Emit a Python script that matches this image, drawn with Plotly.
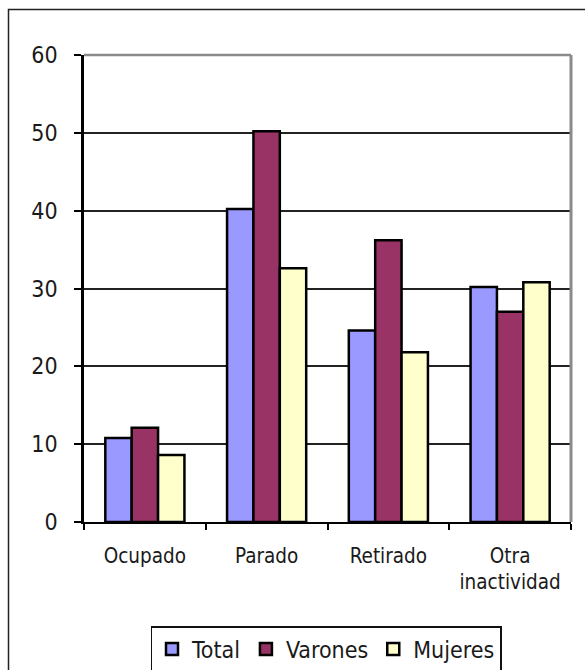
import plotly.graph_objects as go

categories = ["Ocupado", "Parado", "Retirado", "Otra<br>inactividad"]
total = [10.8, 40.2, 24.6, 30.2]
varones = [12.1, 50.2, 36.2, 27.0]
mujeres = [8.6, 32.6, 21.8, 30.8]
y_ticks = [0, 10, 20, 30, 40, 50, 60]

FONT = "DejaVu Sans Condensed, DejaVu Sans, sans-serif"
TXT = "#1a1a1a"

fig = go.Figure()
for name, vals, col in [("Total", total, "#9999FF"),
                        ("Varones", varones, "#993366"),
                        ("Mujeres", mujeres, "#FFFFCC")]:
    fig.add_trace(go.Bar(x=categories, y=vals, name=name,
                         marker=dict(color=col, line=dict(color="#000000", width=2.5))))

W, H = 585, 670
L, R, T, B = 84, 14, 55, 148
pw, ph = W - L - R, H - T - B

def px(x):
    return (x - L) / pw

def py(y):
    return (H - B - y) / ph

fig.update_layout(
    width=W, height=H,
    margin=dict(l=L, r=R, t=T, b=B, pad=0, autoexpand=False),
    paper_bgcolor="white", plot_bgcolor="white",
    barmode="group", bargap=0.35, bargroupgap=0,
    font=dict(family=FONT, color=TXT),
    showlegend=True,
    legend=dict(orientation="h", x=px(326), xanchor="center", y=py(626), yanchor="top",
                bordercolor="#111111", borderwidth=1.5, font=dict(size=23, family=FONT, color=TXT),
                itemwidth=30, tracegroupgap=0),
    xaxis=dict(showline=True, linecolor="#000000", linewidth=2, automargin=False,
               ticks="outside", tickson="boundaries", ticklen=6, tickwidth=2, tickcolor="#000000",
               tickfont=dict(size=20.5, family=FONT, color=TXT),
               ticklabelstandoff=14, showgrid=False, fixedrange=True),
    yaxis=dict(range=[0, 60], tickvals=y_ticks, showline=True, linecolor="#000000", linewidth=2.5,
               automargin=False,
               ticks="outside", ticklen=7, tickwidth=2, tickcolor="#000000",
               tickfont=dict(size=23, family=FONT, color=TXT),
               ticklabelstandoff=12,
               showgrid=True, gridcolor="#222222", gridwidth=1.5, zeroline=False, fixedrange=True),
    shapes=[
        dict(type="line", xref="paper", yref="paper", x0=0, x1=1, y0=1, y1=1,
             line=dict(color="#8a8a8a", width=2.5), layer="above"),
        dict(type="line", xref="paper", yref="paper", x0=1, x1=1, y0=0, y1=1,
             line=dict(color="#8a8a8a", width=3), layer="above"),
        dict(type="rect", xref="paper", yref="paper", x0=px(8.5), x1=px(640), y0=py(9.5), y1=py(720),
             line=dict(color="#222222", width=1.5), fillcolor="rgba(0,0,0,0)", layer="below"),
    ],
)

fig.write_html("out.html")
